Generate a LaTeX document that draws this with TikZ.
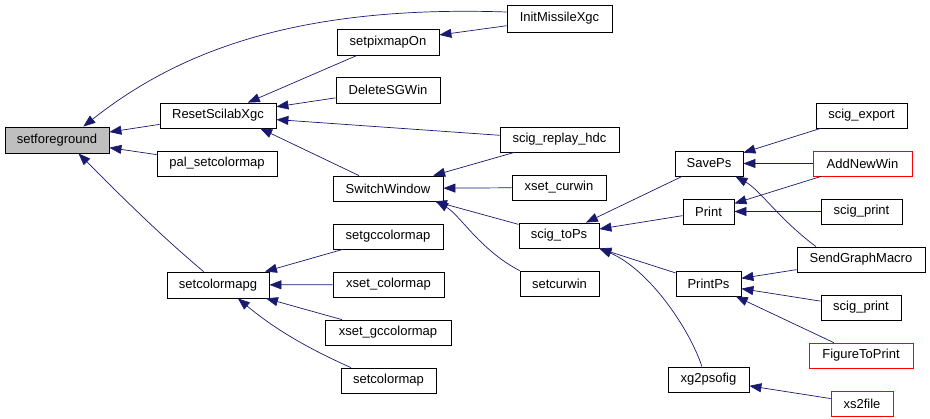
\documentclass[tikz,border=0pt]{standalone}
\usepackage{fontspec}
\setmainfont{Liberation Sans}
\usetikzlibrary{arrows.meta}
\definecolor{edgeblue}{HTML}{191970}
\definecolor{grayfill}{HTML}{BFBFBF}
\begin{document}
\begin{tikzpicture}[x=1pt,y=-1pt,
  fn/.style={draw=black,line width=0.8pt,inner sep=0pt,minimum height=25pt,font=\fontsize{13}{15}\selectfont},
  cur/.style={fn,fill=grayfill},
  redfn/.style={fn,draw=red},
  arr/.style={draw=edgeblue,line width=0.7pt,-{Triangle[length=12pt,width=9pt]},fill=none}]
\useasboundingbox (0,0) rectangle (930,419);
% nodes
\node[cur,minimum width=104pt,minimum height=26pt] (setforeground) at (57,140) {setforeground};
\node[fn,minimum width=116pt] (ResetScilabXgc) at (218,115.5) {ResetScilabXgc};
\node[fn,minimum width=120pt] (pal) at (217,163.5) {pal\_setcolormap};
\node[fn,minimum width=102pt,minimum height=26pt] (setcolormapg) at (218,285) {setcolormapg};
\node[fn,minimum width=102pt,minimum height=26pt] (setpixmapOn) at (388,42) {setpixmapOn};
\node[fn,minimum width=104pt,minimum height=26pt] (DeleteSGWin) at (388,90) {DeleteSGWin};
\node[fn,minimum width=110pt] (SwitchWindow) at (388,188.5) {SwitchWindow};
\node[fn,minimum width=110pt] (setgccolormap) at (388,236.5) {setgccolormap};
\node[fn,minimum width=111pt] (xsetcolormap) at (388.5,284.5) {xset\_colormap};
\node[fn,minimum width=126pt] (xsetgccolormap) at (388,332.5) {xset\_gccolormap};
\node[fn,minimum width=95pt] (setcolormap) at (388.5,380.5) {setcolormap};
\node[fn,minimum width=105pt,minimum height=27pt] (InitMissileXgc) at (559.5,18.5) {InitMissileXgc};
\node[fn,minimum width=119pt] (replay) at (559.5,139.5) {scig\_replay\_hdc};
\node[fn,minimum width=94pt] (xsetcurwin) at (559,187.5) {xset\_curwin};
\node[fn,minimum width=80pt] (scigtoPs) at (559,235.5) {scig\_toPs};
\node[fn,minimum width=79pt] (setcurwin) at (559.5,283.5) {setcurwin};
\node[fn,minimum width=68pt] (SavePs) at (709,163.5) {SavePs};
\node[fn,minimum width=51pt] (Print) at (708.5,211.5) {Print};
\node[fn,minimum width=65pt] (PrintPs) at (708.5,283.5) {PrintPs};
\node[fn,minimum width=81pt] (xg2psofig) at (708.5,379.5) {xg2psofig};
\node[fn,minimum width=91pt] (scigexport) at (861.5,115.5) {scig\_export};
\node[redfn,minimum width=99pt] (AddNewWin) at (862.5,163.5) {AddNewWin};
\node[fn,minimum width=81pt] (scigprintA) at (861.5,211.5) {scig\_print};
\node[fn,minimum width=128pt] (SendGraphMacro) at (861,259.5) {SendGraphMacro};
\node[fn,minimum width=80pt] (scigprintB) at (861,307.5) {scig\_print};
\node[redfn,minimum width=104pt] (FigureToPrint) at (861,355.5) {FigureToPrint};
\node[redfn,minimum width=62pt] (xs2file) at (862,403.5) {xs2file};
% edges
\draw[arr] (InitMissileXgc.173) .. controls (300,5) and (180,50) .. (setforeground.27);
\draw[arr] (ResetScilabXgc) -- (setforeground);
\draw[arr] (pal) -- (setforeground);
\draw[arr] (setcolormapg.137) .. controls (160,235) and (120,195) .. (setforeground.-32);
\draw[arr] (setpixmapOn) -- (ResetScilabXgc);
\draw[arr] (DeleteSGWin) -- (ResetScilabXgc);
\draw[arr] (replay) -- (ResetScilabXgc);
\draw[arr] (SwitchWindow.156) -- (ResetScilabXgc.-17);
\draw[arr] (InitMissileXgc) -- (setpixmapOn);
\draw[arr] (replay) -- (SwitchWindow);
\draw[arr] (xsetcurwin) -- (SwitchWindow);
\draw[arr] (scigtoPs) -- (SwitchWindow);
\draw[arr] (setcurwin.north west) .. controls (480,250) and (460,215) .. (SwitchWindow.-15);
\draw[arr] (SavePs) -- (scigtoPs);
\draw[arr] (Print) -- (scigtoPs);
\draw[arr] (PrintPs) -- (scigtoPs);
\draw[arr] (xg2psofig.117) .. controls (690,330) and (650,270) .. (scigtoPs.south east);
\draw[arr] (scigexport) -- (SavePs);
\draw[arr] (AddNewWin) -- (SavePs);
\draw[arr] (SendGraphMacro.164) .. controls (780,220) and (760,190) .. (SavePs.-26);
\draw[arr] (AddNewWin) -- (Print);
\draw[arr] (scigprintA) -- (Print);
\draw[arr] (SendGraphMacro) -- (PrintPs);
\draw[arr] (scigprintB) -- (PrintPs);
\draw[arr] (FigureToPrint) -- (PrintPs);
\draw[arr] (setgccolormap) -- (setcolormapg);
\draw[arr] (xsetcolormap) -- (setcolormapg);
\draw[arr] (xsetgccolormap) -- (setcolormapg);
\draw[arr] (setcolormap.161) .. controls (300,345) and (270,325) .. (setcolormapg.-34);
\draw[arr] (xs2file) -- (xg2psofig);
\end{tikzpicture}
\end{document}
